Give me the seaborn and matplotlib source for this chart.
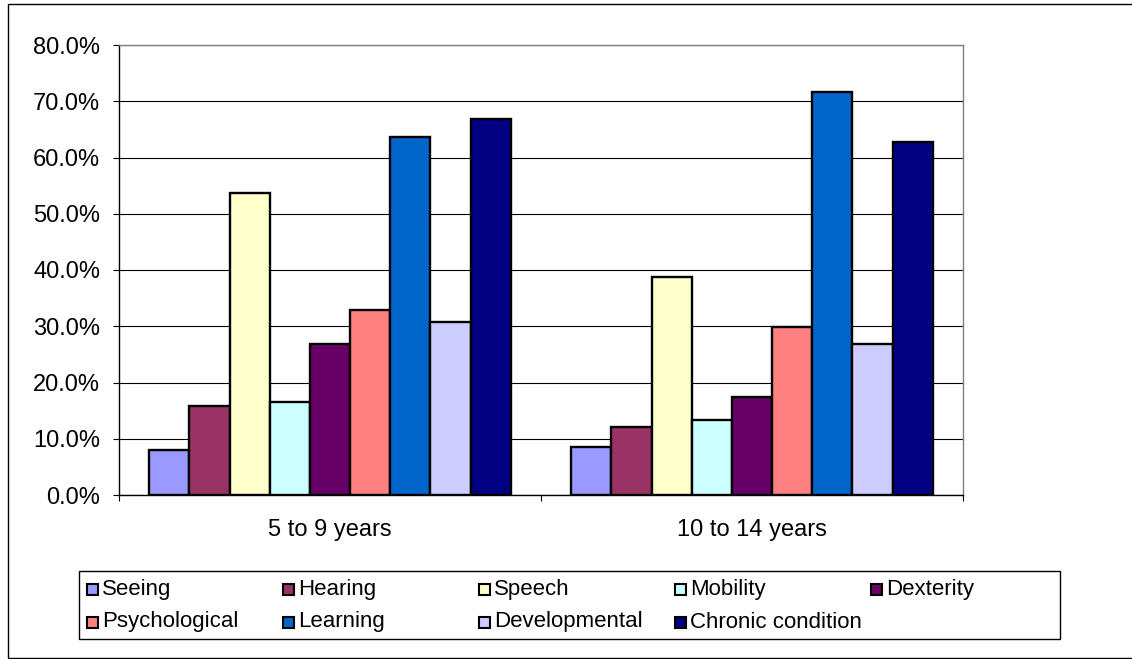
import matplotlib
matplotlib.use("Agg")
import matplotlib.pyplot as plt
from matplotlib.patches import Rectangle
from matplotlib.ticker import PercentFormatter, FixedLocator
import pandas as pd
import seaborn as sns

# Age groups and disability types
age_groups = ["5 to 9 years", "10 to 14 years"]
disability_types = ["Seeing", "Hearing", "Speech", "Mobility", "Dexterity",
                    "Psychological", "Learning", "Developmental", "Chronic condition"]

# Percent of children with each disability type, by age group
values_5_to_9 = [8.0, 15.8, 53.7, 16.5, 26.8, 32.9, 63.7, 30.7, 66.9]
values_10_to_14 = [8.5, 12.1, 38.7, 13.3, 17.4, 29.9, 71.7, 26.8, 62.7]

y_ticks = [0, 10, 20, 30, 40, 50, 60, 70, 80]

colors = ["#9999FF", "#993366", "#FFFFCC", "#CCFFFF", "#660066",
          "#FF8080", "#0066CC", "#CCCCFF", "#000080"]

rows = []
for grp, vals in zip(age_groups, [values_5_to_9, values_10_to_14]):
    for t, v in zip(disability_types, vals):
        rows.append({"age": grp, "type": t, "pct": v})
df = pd.DataFrame(rows)

sns.set_theme(style="white")
plt.rcParams["font.family"] = ["Liberation Sans", "DejaVu Sans"]

W, H = 1132, 659
fig = plt.figure(figsize=(W / 100, H / 100), dpi=100)


def fx(px):
    return px / W


def fy(py):
    return 1 - py / H


# Plot area
left, right, top, bottom = 119, 963, 45, 495
ax = fig.add_axes([fx(left), fy(bottom), fx(right - left), (bottom - top) / H])

sns.barplot(data=df, x="age", y="pct", hue="type", hue_order=disability_types,
            order=age_groups, palette=colors, width=9 / 10.5, saturation=1,
            edgecolor="black", linewidth=1.7, legend=False, ax=ax)

ax.set_xlim(-0.5, 1.5)
ax.set_ylim(0, 80)
ax.set_xlabel("")
ax.set_ylabel("")

ax.yaxis.set_major_locator(FixedLocator(y_ticks))
ax.yaxis.set_major_formatter(PercentFormatter(xmax=100, decimals=1))
ax.yaxis.grid(True, color="black", linewidth=0.8)
ax.set_axisbelow(True)

tick_fs = 17
legend_fs = 16
ax.tick_params(axis="y", which="major", direction="out", length=4.5, width=0.8,
               color="black", pad=9, labelsize=tick_fs, labelcolor="black", left=True)
ax.tick_params(axis="x", which="major", length=0, pad=17, labelsize=tick_fs,
               labelcolor="black")
ax.set_xticks([-0.5, 0.5, 1.5], minor=True)
ax.tick_params(axis="x", which="minor", direction="out", length=4.5, width=0.8,
               color="black", bottom=True)

for side in ["left", "bottom"]:
    ax.spines[side].set_color("black")
    ax.spines[side].set_linewidth(1.0)
for side in ["top", "right"]:
    ax.spines[side].set_color("#808080")
    ax.spines[side].set_linewidth(1.0)

# Chart area border
fig.patches.append(Rectangle((fx(8), fy(658)), 1.2, (658 - 4) / H,
                             transform=fig.transFigure, fill=False,
                             edgecolor="black", linewidth=1.0))

# Legend box with entries laid out row by row
fig.patches.append(Rectangle((fx(79), fy(639)), fx(1060 - 79), (639 - 571) / H,
                             transform=fig.transFigure, fill=False,
                             edgecolor="black", linewidth=1.0))
col_x = 87
col_step = 196
row_y = [589, 622]
for i, (name, c) in enumerate(zip(disability_types, colors)):
    r, k = divmod(i, 5)
    x0 = col_x + k * col_step
    yc = row_y[r]
    fig.patches.append(Rectangle((fx(x0), fy(yc + 5.5)), fx(11), 11 / H,
                                 transform=fig.transFigure, facecolor=c,
                                 edgecolor="black", linewidth=1.5))
    fig.text(fx(x0 + 15), fy(yc), name, fontsize=legend_fs, va="center", ha="left",
             color="black")

fig.savefig("out.png", dpi=100)
